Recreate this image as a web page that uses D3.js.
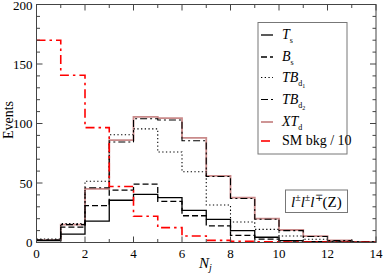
<!DOCTYPE html>
<html>
<head>
<meta charset="utf-8">
<script src="https://cdn.jsdelivr.net/npm/d3@7"></script>
<style>
  body { margin: 0; background: #fff; }
</style>
</head>
<body>
<div id="chart"></div>
<script>
// bins are N_j = 0..13 (edges 0..14)
var ts    = [1.5, 7, 18, 35.5, 40.5, 37.7, 27, 19.5, 10, 4.4, 1.5, 0.7, 0.3, 0.1];
var bs    = [2, 13, 31, 44, 49, 34.5, 22.5, 14, 6, 2.8, 1.2, 0.5, 0.2, 0.1];
var tbd1  = [3, 16, 51.5, 90.5, 95.5, 76, 59.5, 31.5, 17.2, 11, 5.5, 2.7, 1, 0.3];
var tbd2  = [2, 15, 46, 84.5, 104, 103, 85.5, 55.5, 37, 19.5, 10, 5, 1.6, 0.5];
var xtd   = [2, 15, 45, 86, 105.5, 104.5, 88, 56, 37.7, 20, 10.5, 5.3, 1.8, 0.5];
var smbkg = [170, 140.5, 96.5, 47, 22, 12.5, 5.5, 1.8, 1, 0.6, 0.4, 0.3, 0.2, 0.2];

var xTicks = [0, 2, 4, 6, 8, 10, 12, 14];
var yTicks = [0, 50, 100, 150, 200];

var W = 384, H = 278;
var margin = {top: 4.5, right: 8, bottom: 35.5, left: 36.5};
var width = W - margin.left - margin.right,
    height = H - margin.top - margin.bottom;

var x = d3.scaleLinear().domain([0, 14]).range([0, width]);
var y = d3.scaleLinear().domain([0, 200]).range([height, 0]);

var svg = d3.select("#chart").append("svg")
    .attr("width", W)
    .attr("height", H)
    .attr("font-family", "'Liberation Serif', 'Times New Roman', Times, serif");

var g = svg.append("g")
    .attr("transform", "translate(" + margin.left + "," + margin.top + ")");

svg.append("clipPath").attr("id", "clip")
    .append("rect").attr("width", width).attr("height", height + 1);

// series: drawn bottom to top
var series = [
  {name: "XTd",   vals: xtd,   color: "#c98a8a", width: 1.8, dash: null},
  {name: "TBd2",  vals: tbd2,  color: "#000",    width: 1.1, dash: "7,3,2,3"},
  {name: "TBd1",  vals: tbd1,  color: "#000",    width: 1.1, dash: "1.3,2.4"},
  {name: "Bs",    vals: bs,    color: "#000",    width: 1.3, dash: "6,3"},
  {name: "Ts",    vals: ts,    color: "#000",    width: 1.3, dash: null},
  {name: "SM",    vals: smbkg, color: "#ff0000", width: 1.6, dash: "9,4,2.5,4"}
];

var line = d3.line()
    .x(function(d) { return x(d[0]); })
    .y(function(d) { return y(d[1]); })
    .curve(d3.curveStepAfter);

var plot = g.append("g").attr("clip-path", "url(#clip)");

series.forEach(function(s) {
  var pts = s.vals.map(function(v, i) { return [i, v]; });
  pts.push([14, s.vals[s.vals.length - 1]]);
  plot.append("path")
      .datum(pts)
      .attr("d", line)
      .attr("fill", "none")
      .attr("stroke", s.color)
      .attr("stroke-width", s.width)
      .attr("stroke-dasharray", s.dash);
});

// frame + inward ticks
var axisColor = "#444";
g.append("rect")
    .attr("width", width).attr("height", height)
    .attr("fill", "none").attr("stroke", axisColor).attr("stroke-width", 1);

var xMinor = d3.range(0, 15, 1), yMinor = d3.range(0, 201, 10);
xMinor.forEach(function(v) {
  var len = v % 2 === 0 ? 6 : 3.5;
  g.append("line").attr("x1", x(v)).attr("x2", x(v)).attr("y1", height).attr("y2", height - len)
      .attr("stroke", axisColor);
  g.append("line").attr("x1", x(v)).attr("x2", x(v)).attr("y1", 0).attr("y2", len)
      .attr("stroke", axisColor);
});
yMinor.forEach(function(v) {
  var len = v % 50 === 0 ? 6 : 3.5;
  g.append("line").attr("x1", 0).attr("x2", len).attr("y1", y(v)).attr("y2", y(v))
      .attr("stroke", axisColor);
  g.append("line").attr("x1", width).attr("x2", width - len).attr("y1", y(v)).attr("y2", y(v))
      .attr("stroke", axisColor);
});

g.selectAll(".xl").data(xTicks).enter().append("text")
    .attr("x", function(d) { return x(d); })
    .attr("y", height + 15)
    .attr("text-anchor", "middle")
    .attr("font-size", 13)
    .text(function(d) { return d; });

g.selectAll(".yl").data(yTicks).enter().append("text")
    .attr("x", -4)
    .attr("y", function(d) { return y(d) + (d === 200 ? 5.5 : 4.5); })
    .attr("text-anchor", "end")
    .attr("font-size", 13)
    .text(function(d) { return d; });

// axis titles
svg.append("text")
    .attr("transform", "translate(13,120) rotate(-90)")
    .attr("text-anchor", "middle")
    .attr("font-size", 14)
    .text("Events");

var xt = svg.append("text")
    .attr("x", 199).attr("y", 268)
    .attr("font-size", 15)
    .attr("font-style", "italic");
xt.append("tspan").text("N");
xt.append("tspan").attr("font-size", 10).attr("dy", 3).text("j");

// legend
var leg = svg.append("g");
leg.append("rect")
    .attr("x", 258).attr("y", 22.5).attr("width", 89).attr("height", 131.5)
    .attr("fill", "#fff").attr("stroke", "#777").attr("stroke-width", 1);

var legendItems = [
  {s: series[4], y: 35,    main: "T",  sub: "s",  sub2: null, plain: false},
  {s: series[3], y: 57,    main: "B",  sub: "s",  sub2: null, plain: false},
  {s: series[2], y: 77.5,  main: "TB", sub: "d",  sub2: "1",  plain: false},
  {s: series[1], y: 99.5,  main: "TB", sub: "d",  sub2: "2",  plain: false},
  {s: series[0], y: 122,   main: "XT", sub: "d",  sub2: null, plain: false},
  {s: series[5], y: 141,   main: "SM bkg / 10", plain: true}
];

legendItems.forEach(function(it) {
  leg.append("line")
      .attr("x1", 261).attr("x2", 273)
      .attr("y1", it.y).attr("y2", it.y)
      .attr("stroke", it.s.color)
      .attr("stroke-width", it.s.width)
      .attr("stroke-dasharray", it.s.dash);
  var t = leg.append("text")
      .attr("x", 282).attr("y", it.y + 4)
      .attr("font-size", 14);
  if (it.plain) {
    t.text(it.main);
  } else {
    t.append("tspan").attr("font-style", "italic").text(it.main);
    t.append("tspan").attr("font-size", 8).attr("dy", 4).text(it.sub);
    if (it.sub2) t.append("tspan").attr("font-size", 6).attr("dy", 2).text(it.sub2);
  }
});

// process label
svg.append("rect")
    .attr("x", 285.5).attr("y", 190).attr("width", 62).attr("height", 22.5)
    .attr("fill", "#fff").attr("stroke", "#777").attr("stroke-width", 1);
var pl = svg.append("text")
    .attr("x", 291).attr("y", 207)
    .attr("font-size", 15);
var signs = ["\u00b1", "\u00b1", "\u2213"];
signs.forEach(function(sg, i) {
  pl.append("tspan").attr("font-style", "italic").attr("dy", i === 0 ? 0 : 6).text("l");
  pl.append("tspan").attr("font-size", 10).attr("dy", -6).text(sg);
});
pl.append("tspan").attr("dy", 6).text("(Z)");
</script>
</body>
</html>
